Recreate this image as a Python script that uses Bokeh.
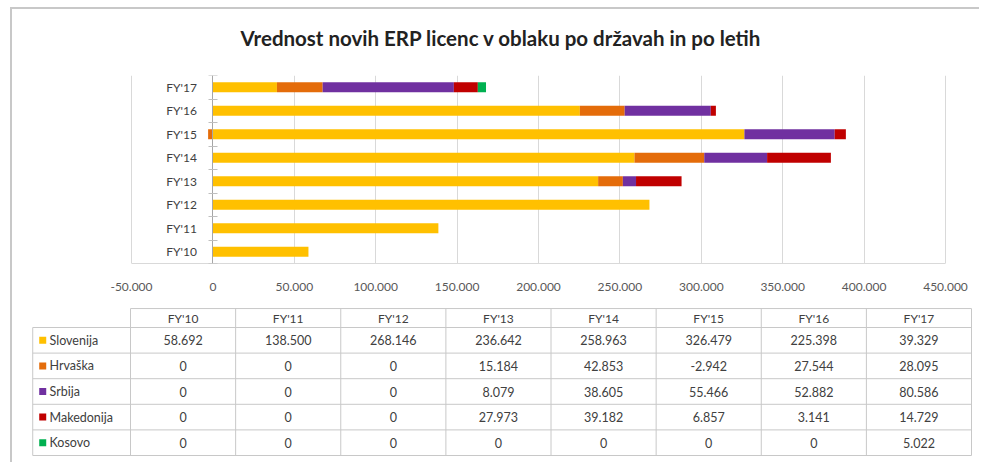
import numpy as np
from bokeh.plotting import figure
from bokeh.layouts import column
from bokeh.models import Range1d, FixedTicker
from bokeh.core.properties import value
from bokeh.embed import file_html
from bokeh.resources import INLINE

# ---------------- data ----------------
years = ["FY'10", "FY'11", "FY'12", "FY'13", "FY'14", "FY'15", "FY'16", "FY'17"]
series_names = ["Slovenija", "Hrvaška", "Srbija", "Makedonija", "Kosovo"]
slovenija = [58692, 138500, 268146, 236642, 258963, 326479, 225398, 39329]
hrvaska = [0, 0, 0, 15184, 42853, -2942, 27544, 28095]
srbija = [0, 0, 0, 8079, 38605, 55466, 52882, 80586]
makedonija = [0, 0, 0, 27973, 39182, 6857, 3141, 14729]
kosovo = [0, 0, 0, 0, 0, 0, 0, 5022]
series_values = [slovenija, hrvaska, srbija, makedonija, kosovo]
series_colors = ["#FFC000", "#E46C0A", "#7030A0", "#C00000", "#00B050"]
x_ticks = [-50000, 0, 50000, 100000, 150000, 200000, 250000, 300000, 350000, 400000, 450000]
x_tick_labels = ["-50.000", "0", "50.000", "100.000", "150.000", "200.000",
                 "250.000", "300.000", "350.000", "400.000", "450.000"]
title_text = "Vrednost novih ERP licenc v oblaku po državah in po letih"

FONT = "Lato"
n_years = len(years)
n_series = len(series_names)

# ---------------- layout constants (pixels) ----------------
W = 969                 # canvas width of all figures
H0, H1, H2 = 66, 225, 164
BOT1 = 37               # border below the bar frame
AX_L, AX_R = 119, 933   # canvas x of axis min / max
x_min, x_max = x_ticks[0], x_ticks[-1]
ppu = (AX_R - AX_L) / (x_max - x_min)
xr_start = x_min - AX_L / ppu
xr_end = x_max + (W - AX_R) / ppu

# ---------------- title strip ----------------
p0 = figure(width=W, height=H0, x_range=Range1d(0, W), y_range=Range1d(H0, 0),
            toolbar_location=None, output_backend="svg", min_border=0,
            x_axis_location=None, y_axis_location=None)
p0.outline_line_color = None
p0.grid.visible = False
p0.text(x=[228], y=[28], text=[title_text], text_align="left", text_baseline="middle",
        text_font=value(FONT), text_font_style="bold", text_font_size="20.5px",
        text_color="#222222")

# ---------------- bar chart ----------------
p1 = figure(width=W, height=H1, x_range=Range1d(xr_start, xr_end), y_range=Range1d(0, n_years),
            toolbar_location=None, output_backend="svg",
            min_border_left=0, min_border_right=0, min_border_top=0, min_border_bottom=BOT1)
p1.outline_line_color = None

ypos = np.arange(n_years) + 0.5
pos_base = np.zeros(n_years)
neg_base = np.zeros(n_years)
for name, vals, col in zip(series_names, series_values, series_colors):
    v = np.array(vals, dtype=float)
    left = np.where(v >= 0, pos_base, neg_base + v)
    right = np.where(v >= 0, pos_base + v, neg_base)
    pos_base = pos_base + np.where(v > 0, v, 0)
    neg_base = neg_base + np.where(v < 0, v, 0)
    p1.hbar(y=ypos, left=left, right=right, height=0.42, fill_color=col, line_color=None)

p1.ygrid.visible = False
p1.xgrid.ticker = FixedTicker(ticks=x_ticks)
p1.xgrid.grid_line_color = "#D9D9D9"
p1.xaxis.ticker = FixedTicker(ticks=x_ticks)
p1.xaxis.bounds = (x_min, x_max)
p1.xaxis.major_label_overrides = dict(zip(x_ticks, x_tick_labels))
p1.xaxis.axis_line_color = "#D9D9D9"
p1.xaxis.major_tick_line_color = None
p1.xaxis.minor_tick_line_color = None
p1.xaxis.major_label_standoff = 13
p1.xaxis.major_label_text_font = FONT
p1.xaxis.major_label_text_font_size = "12px"
p1.xaxis.major_label_text_color = "#595959"

p1.yaxis.fixed_location = 0
p1.yaxis.ticker = FixedTicker(ticks=list(ypos), minor_ticks=list(range(n_years + 1)))
p1.yaxis.major_label_overrides = {float(y): yr for y, yr in zip(ypos, years)}
p1.yaxis.axis_line_color = "#A6A6A6"
p1.yaxis.major_tick_line_color = None
p1.yaxis.major_tick_out = 0
p1.yaxis.major_tick_in = 0
p1.yaxis.minor_tick_line_color = "#BFBFBF"
p1.yaxis.minor_tick_in = 5
p1.yaxis.minor_tick_out = 4
p1.yaxis.major_label_standoff = 12
p1.yaxis.major_label_text_font = FONT
p1.yaxis.major_label_text_font_size = "12px"
p1.yaxis.major_label_text_color = "#404040"

# ---------------- data table ----------------
COL0 = 118        # canvas x of first year column
COLW = 105.125    # px per column
TOP0 = 27         # canvas y of first data row
ROWH = 25.6       # px per row
label_w = 0.93
head_h = 0.74
p2 = figure(width=W, height=H2,
            x_range=Range1d(-COL0 / COLW, (W - COL0) / COLW),
            y_range=Range1d((H2 - TOP0) / ROWH, -TOP0 / ROWH),
            toolbar_location=None, output_backend="svg", min_border=0,
            x_axis_location=None, y_axis_location=None)
p2.outline_line_color = None
p2.grid.visible = False

hy = [-head_h] + list(range(n_series + 1))
hx0 = [0] + [-label_w] * (n_series + 1)
hx1 = [n_years] * (n_series + 2)
p2.segment(x0=hx0, y0=hy, x1=hx1, y1=hy, line_color="#C8C8C8", line_width=1)
vx = [-label_w] + list(range(n_years + 1))
vy0 = [0] + [-head_h] * (n_years + 1)
vy1 = [n_series] * (n_years + 2)
p2.segment(x0=vx, y0=vy0, x1=vx, y1=vy1, line_color="#C8C8C8", line_width=1)

p2.text(x=np.arange(n_years) + 0.5, y=[-head_h / 2] * n_years, text=years,
        text_align="center", text_baseline="middle", text_font=value(FONT),
        text_font_size="12px", text_color="#404040")

def fmt(v):
    return f"{v:,}".replace(",", ".")

cx, cy, ct = [], [], []
for r, vals in enumerate(series_values):
    for c, v in enumerate(vals):
        cx.append(c + 0.5)
        cy.append(r + 0.5)
        ct.append(fmt(v))
p2.text(x=cx, y=cy, text=ct, text_align="center", text_baseline="middle",
        text_font=value(FONT), text_font_size="12.5px", text_color="#404040")

rows_y = np.arange(n_series) + 0.5
p2.rect(x=[-label_w + 0.095] * n_series, y=rows_y, width=7, height=7,
        width_units="screen", height_units="screen", fill_color=series_colors, line_color=None)
p2.text(x=[-label_w + 0.16] * n_series, y=rows_y, text=series_names, text_align="left",
        text_baseline="middle", text_font=value(FONT), text_font_size="12.5px", text_color="#404040")

layout = column(p0, p1, p2, spacing=0,
                styles={"position": "absolute", "left": "12px", "top": "9px",
                        "width": f"{W}px", "height": f"{H0 + H1 + H2}px",
                        "overflow": "hidden",
                        "box-shadow": "-2px -2px 0 0 #C8C8C8"})

open("out.html", "w").write(file_html(layout, INLINE))
